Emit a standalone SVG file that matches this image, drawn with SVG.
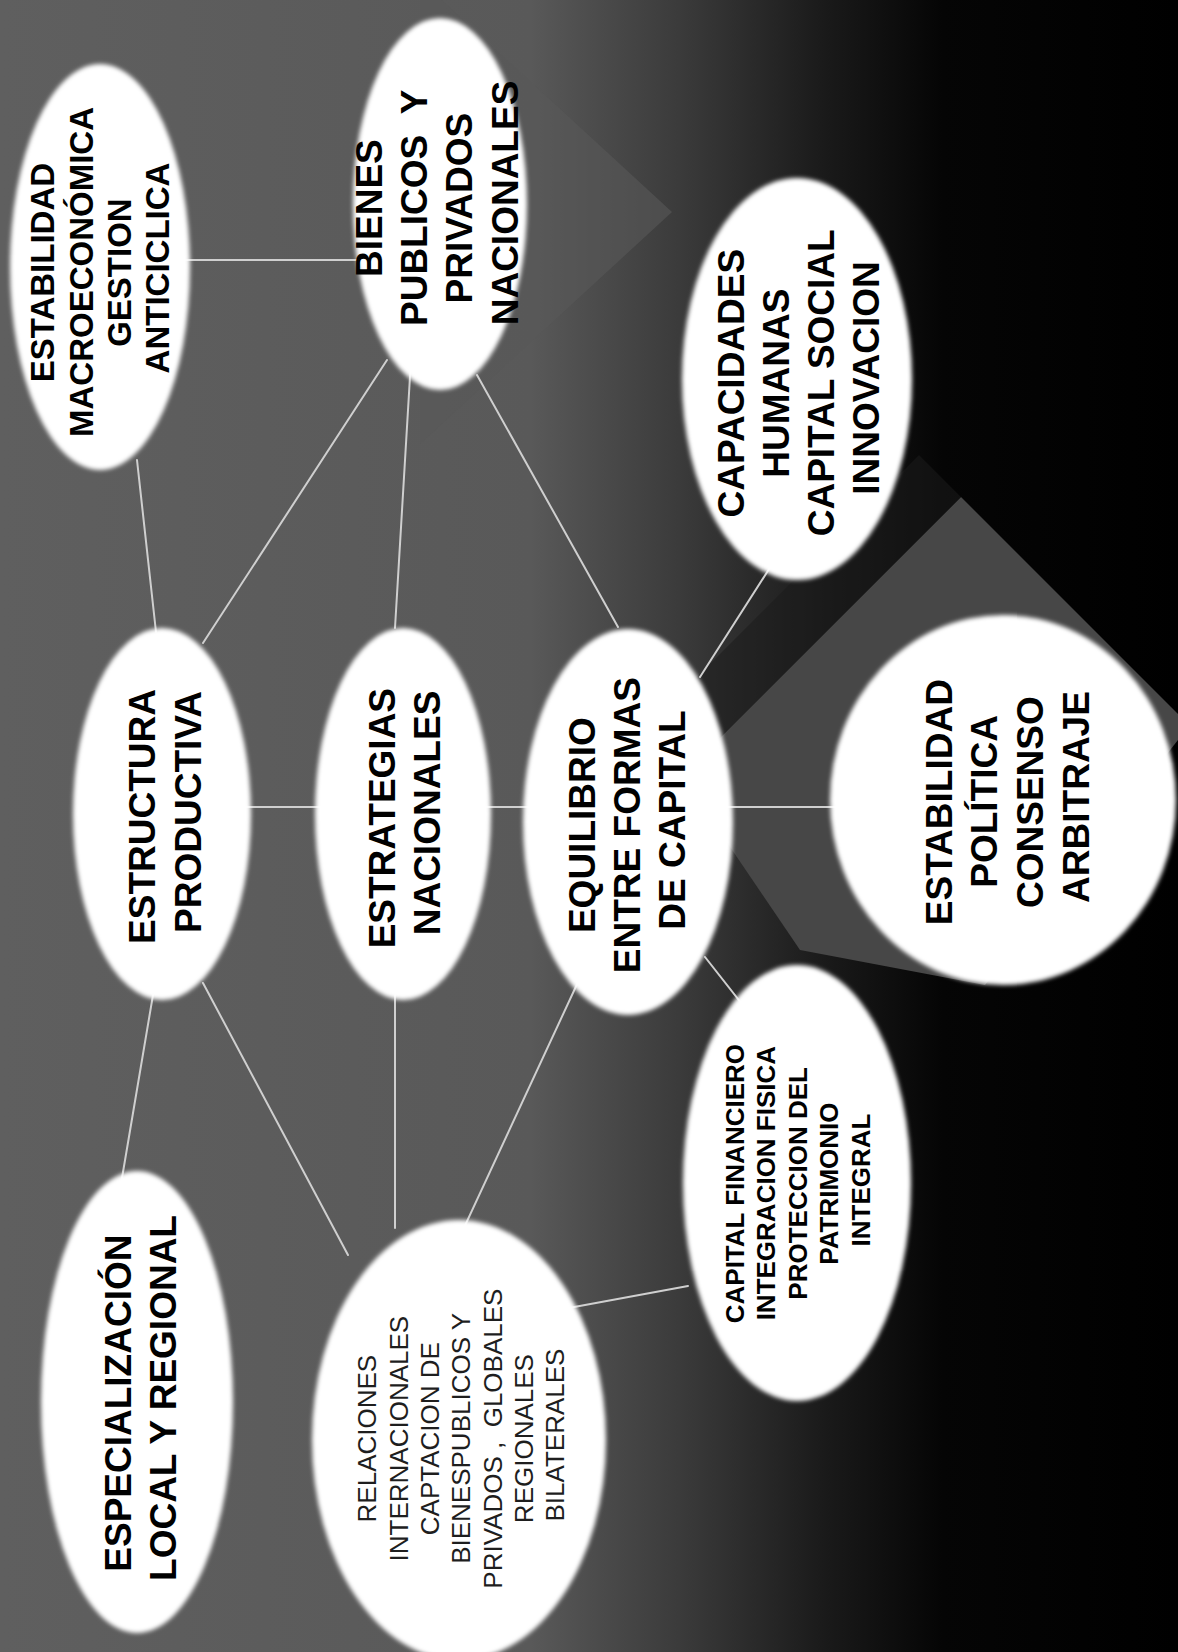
<svg xmlns="http://www.w3.org/2000/svg" width="1178" height="1652" viewBox="0 0 1178 1652">
<defs>
<linearGradient id="bg" x1="0" y1="0" x2="1178" y2="0" gradientUnits="userSpaceOnUse">
<stop offset="0" stop-color="#5f5f5f"/>
<stop offset="0.45" stop-color="#595959"/>
<stop offset="0.58" stop-color="#3a3a3a"/>
<stop offset="0.7" stop-color="#1a1a1a"/>
<stop offset="0.8" stop-color="#050505"/>
<stop offset="1" stop-color="#000000"/>
</linearGradient>
<filter id="soft" x="-5%" y="-5%" width="110%" height="110%"><feGaussianBlur stdDeviation="2"/></filter>
</defs>
<style>
.t{font-family:"Liberation Sans",Arial,sans-serif;font-weight:bold;fill:#000;text-anchor:middle}
.big{font-size:37px}
.mid{font-size:33px}
.sm{font-size:26px}
.reg{font-weight:normal;fill:#1e1e1e}
.conn line{stroke:#cfcfcf;stroke-width:2;stroke-linecap:round}
.node ellipse{fill:#ffffff}
</style>

<rect x="0" y="0" width="1178" height="1652" fill="url(#bg)"/>
<polygon points="420,-20 672,212 420,444" fill="#585858" opacity="0.6"/>
<polygon points="961,497 1178,714 1178,740 985,985 800,950 682,776" fill="#474747"/>
<polygon points="961,497 682,776 640,734 919,455" fill="#1c1c1c" opacity="0.55"/>

<g id="connectors" class="conn">
<line x1="180" y1="260" x2="365" y2="260"/>
<line x1="137" y1="460" x2="156" y2="632"/>
<line x1="387" y1="360" x2="203" y2="643"/>
<line x1="412" y1="343" x2="395" y2="628"/>
<line x1="477" y1="375" x2="618" y2="627"/>
<line x1="245" y1="807" x2="322" y2="807"/>
<line x1="485" y1="807" x2="535" y2="807"/>
<line x1="725" y1="807" x2="840" y2="807"/>
<line x1="700" y1="677" x2="778" y2="555"/>
<line x1="705" y1="957" x2="760" y2="1027"/>
<line x1="585" y1="967" x2="443" y2="1273"/>
<line x1="153" y1="995" x2="122" y2="1178"/>
<line x1="203" y1="983" x2="348" y2="1255"/>
<line x1="395" y1="995" x2="395" y2="1228"/>
<line x1="520" y1="1317" x2="688" y2="1286"/>
</g>

<g id="n-macro" class="node">
<ellipse cx="100" cy="267" rx="90" ry="203" filter="url(#soft)"/>
<g transform="translate(100,268) rotate(-90)"><text class="t mid">
<tspan x="0" y="-45.7">ESTABILIDAD</tspan>
<tspan x="0" y="-7.4">MACROECONÓMICA</tspan>
<tspan x="0" y="31">GESTION</tspan>
<tspan x="0" y="69.3">ANTICICLICA</tspan>
</text></g>
</g>

<g id="n-bienes" class="node">
<ellipse cx="440" cy="204" rx="87" ry="186" filter="url(#soft)"/>
<g transform="translate(436.5,203) rotate(-90)"><text class="t big">
<tspan x="0" y="-54.8">BIENES</tspan>
<tspan x="0" y="-9.5">PUBLICOS&#160;&#160;Y</tspan>
<tspan x="0" y="35.9">PRIVADOS</tspan>
<tspan x="0" y="81.2">NACIONALES</tspan>
</text></g>
</g>

<g id="n-capacidades" class="node">
<ellipse cx="797" cy="379" rx="115" ry="201" filter="url(#soft)"/>
<g transform="translate(798,378) rotate(-90)"><text class="t big">
<tspan x="0" y="-54.3">CAPACIDADES</tspan>
<tspan x="0" y="-9.3">HUMANAS</tspan>
<tspan x="0" y="35.7">CAPITAL SOCIAL</tspan>
<tspan x="0" y="80.7">INNOVACION</tspan>
</text></g>
</g>

<g id="n-estructura" class="node">
<ellipse cx="162" cy="814" rx="89" ry="186" filter="url(#soft)"/>
<g transform="translate(165,812) rotate(-90)"><text class="t big">
<tspan x="0" y="-9.8">ESTRUCTURA</tspan>
<tspan x="0" y="36.2">PRODUCTIVA</tspan>
</text></g>
</g>

<g id="n-estrategias" class="node">
<ellipse cx="403" cy="814" rx="88" ry="186" filter="url(#soft)"/>
<g transform="translate(404.5,813) rotate(-90)"><text class="t big">
<tspan x="0" y="-9.3">ESTRATEGIAS</tspan>
<tspan x="0" y="35.7">NACIONALES</tspan>
</text></g>
</g>

<g id="n-equilibrio" class="node">
<ellipse cx="628" cy="822" rx="105" ry="193" filter="url(#soft)"/>
<g transform="translate(627,820) rotate(-90)"><text class="t big">
<tspan x="0" y="-31.8">EQUILIBRIO</tspan>
<tspan x="0" y="13.2">ENTRE FORMAS</tspan>
<tspan x="0" y="58.2">DE CAPITAL</tspan>
</text></g>
</g>

<g id="n-politica" class="node">
<ellipse cx="1003" cy="800" rx="173" ry="185" filter="url(#soft)"/>
<g transform="translate(1007,797) rotate(-90)"><text class="t big">
<tspan x="0" y="-55.3">ESTABILIDAD</tspan>
<tspan x="0" y="-9.6">POLÍTICA</tspan>
<tspan x="0" y="36">CONSENSO</tspan>
<tspan x="0" y="81.7">ARBITRAJE</tspan>
</text></g>
</g>

<g id="n-especializacion" class="node">
<ellipse cx="137" cy="1402" rx="96" ry="231" filter="url(#soft)"/>
<g transform="translate(140,1398) rotate(-90)"><text class="t big">
<tspan x="0" y="-9.3">ESPECIALIZACIÓN</tspan>
<tspan x="0" y="35.7">LOCAL Y REGIONAL</tspan>
</text></g>
</g>

<g id="n-relaciones" class="node">
<ellipse cx="459" cy="1440" rx="147" ry="220" filter="url(#soft)"/>
<g transform="translate(461,1435) rotate(-90)"><text class="t sm reg">
<tspan x="0" y="-84.6">RELACIONES</tspan>
<tspan x="0" y="-53.3">INTERNACIONALES</tspan>
<tspan x="0" y="-22">CAPTACION DE</tspan>
<tspan x="0" y="9.3">BIENESPUBLICOS Y</tspan>
<tspan x="0" y="40.6">PRIVADOS ,&#160; GLOBALES</tspan>
<tspan x="0" y="71.9">REGIONALES</tspan>
<tspan x="0" y="103.2">BILATERALES</tspan>
</text></g>
</g>

<g id="n-capital" class="node">
<ellipse cx="797" cy="1183" rx="114" ry="218" filter="url(#soft)"/>
<g transform="translate(797.6,1180) rotate(-90)"><text class="t sm">
<tspan x="0" y="-53.7">CAPITAL FINANCIERO</tspan>
<tspan x="0" y="-22.2">INTEGRACION FISICA</tspan>
<tspan x="0" y="9.3">PROTECCION DEL</tspan>
<tspan x="0" y="40.8">PATRIMONIO</tspan>
<tspan x="0" y="72.3">INTEGRAL</tspan>
</text></g>
</g>
</svg>
